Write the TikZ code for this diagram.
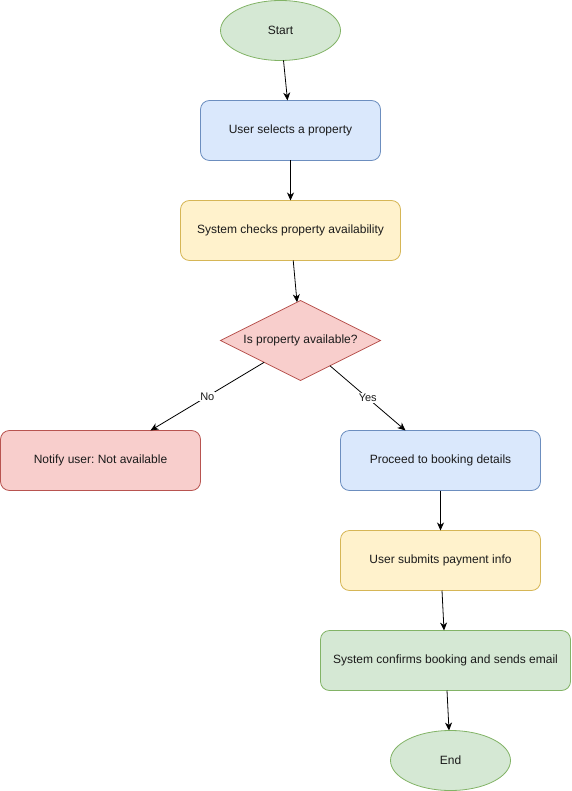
\documentclass[tikz,border=0pt]{standalone}
\usepackage{fontspec}
\setmainfont{Liberation Sans}
\frenchspacing
\usetikzlibrary{shapes.geometric,arrows.meta}
\definecolor{gfill}{HTML}{D5E8D4}\definecolor{gline}{HTML}{82B366}
\definecolor{bfill}{HTML}{DAE8FC}\definecolor{bline}{HTML}{6C8EBF}
\definecolor{yfill}{HTML}{FFF2CC}\definecolor{yline}{HTML}{D6B656}
\definecolor{rfill}{HTML}{F8CECC}\definecolor{rline}{HTML}{B85450}
\definecolor{txt}{HTML}{1A1A1A}
\tikzset{
  base/.style={inner sep=0pt, outer sep=0pt, line width=0.8pt, font=\fontsize{12}{14}\selectfont, text=txt},
  oval/.style={base, ellipse, minimum width=120pt, minimum height=60pt},
  box/.style={base, rectangle, rounded corners=9pt, minimum height=60pt},
  dia/.style={base, diamond, aspect=2, minimum width=160pt, minimum height=80pt},
  green/.style={fill=gfill, draw=gline},
  blue/.style={fill=bfill, draw=bline},
  yellow/.style={fill=yfill, draw=yline},
  red/.style={fill=rfill, draw=rline},
  conn/.style={line width=0.8pt, -{Stealth[length=8pt,width=7pt,inset=2.5pt]}},
  lab/.style={fill=white, inner sep=1pt, font=\fontsize{11}{13}\selectfont, text=txt}
}
\begin{document}
\begin{tikzpicture}[x=1pt,y=-1pt]
\useasboundingbox (0,0) rectangle (571,791);
\begin{scope}[shift={(0.5,0.5)}]
\node[oval,green] (start) at (280,30) {Start};
\node[box,blue,minimum width=180pt] (sel) at (290,130) {User selects a property};
\node[box,yellow,minimum width=220pt] (chk) at (290,230) {System checks property availability};
\node[dia,red] (avail) at (300,340) {Is property available?};
\node[box,red,minimum width=200pt] (notify) at (100,460) {Notify user: Not available};
\node[box,blue,minimum width=200pt] (proc) at (440,460) {Proceed to booking details};
\node[box,yellow,minimum width=200pt] (pay) at (440,560) {User submits payment info};
\node[box,green,minimum width=250pt] (conf) at (445,660) {System confirms booking and sends email};
\node[oval,green] (end) at (450,760) {End};
\draw[conn] (start) -- (sel);
\draw[conn] (sel) -- (chk);
\draw[conn] (chk) -- (avail);
\draw[conn] (avail) -- node[lab] {No} (notify);
\draw[conn] (avail) -- node[lab] {Yes} (proc);
\draw[conn] (proc) -- (pay);
\draw[conn] (pay) -- (conf);
\draw[conn] (conf) -- (end);
\end{scope}
\end{tikzpicture}
\end{document}
